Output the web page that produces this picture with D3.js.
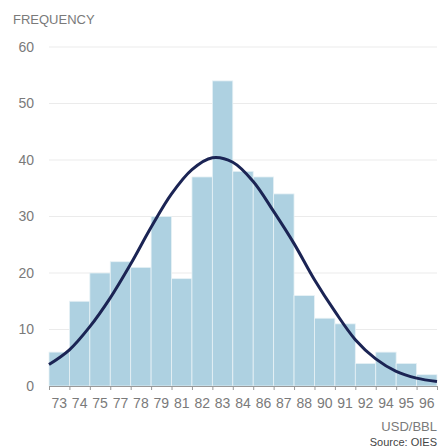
<!DOCTYPE html>
<html>
<head>
<meta charset="utf-8">
<script src="https://cdnjs.cloudflare.com/ajax/libs/d3/7.8.5/d3.min.js"></script>
<style>
  body { margin: 0; background: #fff; }
</style>
</head>
<body>
<svg id="canvas" width="440" height="448"></svg>
<script>
// histogram bins (price labels) and counts
var categories = ['73', '74', '75', '77', '78', '79', '81', '82', '83', '84',
  '86', '87', '88', '90', '91', '92', '94', '95', '96'];
var counts = [6, 15, 20, 22, 21, 30, 19, 37, 54, 38, 37, 34, 16, 12, 11, 4, 6, 4, 2];

// fitted curve, read at each bin edge (0 = left edge of first bin)
var curveEdges = d3.range(20);
var curveValues = [3.8, 6.4, 10.5, 15.6, 21.6, 28.1, 34.0, 38.3, 40.4, 39.6,
  36.2, 30.9, 25.2, 18.8, 13.2, 8.2, 4.8, 2.6, 1.4, 0.8];

var yTicks = [0, 10, 20, 30, 40, 50, 60];

var font = '"Liberation Sans", Arial, Helvetica, sans-serif';
var textGrey = '#7a7a7a';
var canvas = d3.select('#canvas');
var margin = { 'left': 49, 'right': 3, 'top': 47, 'bottom': 62 };
var width = +canvas.attr('width');
var height = +canvas.attr('height');

var xBand = d3.scaleBand()
  .domain(categories)
  .range([margin.left, width - margin.right])
  .padding(0);

var xEdge = d3.scaleLinear()
  .domain([0, categories.length])
  .range([margin.left, width - margin.right]);

var yScale = d3.scaleLinear()
  .domain([0, 60])
  .range([height - margin.bottom, margin.top]);

// gridlines
canvas.append('g')
  .selectAll('line')
  .data(yTicks.slice(1))
  .enter()
  .append('line')
  .attr('x1', margin.left)
  .attr('x2', width - margin.right)
  .attr('y1', function(d) { return yScale(d); })
  .attr('y2', function(d) { return yScale(d); })
  .attr('stroke', '#ebebeb')
  .attr('stroke-width', 1);

// y labels
canvas.append('g')
  .selectAll('text')
  .data(yTicks)
  .enter()
  .append('text')
  .attr('x', 34)
  .attr('y', function(d) { return yScale(d); })
  .attr('dy', '0.35em')
  .attr('text-anchor', 'end')
  .attr('font-family', font)
  .attr('font-size', 14)
  .attr('fill', textGrey)
  .text(function(d) { return d; });

canvas.append('text')
  .attr('x', 13)
  .attr('y', 24)
  .attr('font-family', font)
  .attr('font-size', 13)
  .attr('fill', textGrey)
  .text('FREQUENCY');

// bars
canvas.append('g')
  .selectAll('rect')
  .data(counts)
  .enter()
  .append('rect')
  .attr('x', function(d, i) { return xBand(categories[i]); })
  .attr('y', function(d) { return yScale(d); })
  .attr('width', xBand.bandwidth())
  .attr('height', function(d) { return yScale(0) - yScale(d); })
  .attr('fill', '#aed1e1')
  .attr('stroke', '#e8f2f6')
  .attr('stroke-width', 0.8);

// x axis: ticks at bin edges, labels under bin centres
var edgeAxis = d3.axisBottom(xEdge)
  .tickValues(d3.range(categories.length + 1))
  .tickFormat('')
  .tickSize(4)
  .tickSizeOuter(0);

var gEdge = canvas.append('g')
  .attr('transform', 'translate(0,' + yScale(0) + ')')
  .call(edgeAxis);
gEdge.selectAll('path, line').attr('stroke', '#999');

var labelAxis = d3.axisBottom(xBand).tickSize(0).tickPadding(12);
var gLab = canvas.append('g')
  .attr('transform', 'translate(0,' + yScale(0) + ')')
  .call(labelAxis);
gLab.select('.domain').remove();
gLab.selectAll('text')
  .attr('font-size', 14)
  .attr('font-family', font)
  .attr('fill', textGrey);

// fitted line
var line = d3.line()
  .x(function(d, i) { return xEdge(curveEdges[i]); })
  .y(function(d) { return yScale(d); })
  .curve(d3.curveCatmullRom);

canvas.append('path')
  .datum(curveValues)
  .attr('d', line)
  .attr('fill', 'none')
  .attr('stroke', '#1b2454')
  .attr('stroke-width', 3);

canvas.append('text')
  .attr('x', 437)
  .attr('y', 431)
  .attr('text-anchor', 'end')
  .attr('font-family', font)
  .attr('font-size', 13)
  .attr('fill', textGrey)
  .text('USD/BBL');

canvas.append('text')
  .attr('x', 437)
  .attr('y', 446)
  .attr('text-anchor', 'end')
  .attr('font-family', font)
  .attr('font-size', 11)
  .attr('fill', '#444')
  .text('Source: OIES');
</script>
</body>
</html>
